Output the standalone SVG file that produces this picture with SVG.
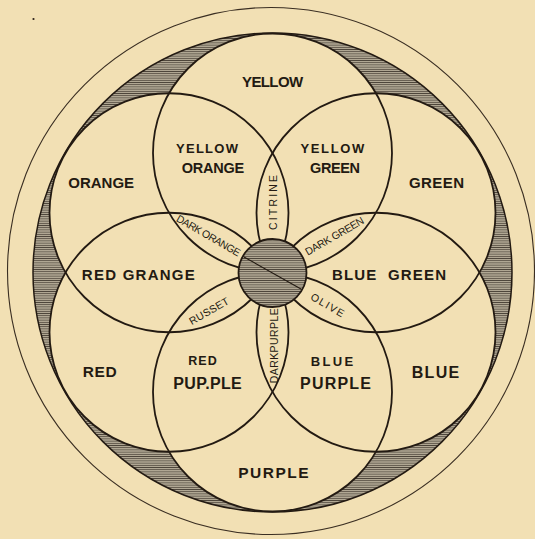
<svg xmlns="http://www.w3.org/2000/svg" width="535" height="539" viewBox="0 0 535 539">
<defs>
<pattern id="hatch" patternUnits="userSpaceOnUse" width="6" height="2.2">
<rect width="6" height="2.2" fill="#bcb39e"/>
<line x1="0" y1="1.1" x2="6" y2="1.1" stroke="#4e463b" stroke-width="0.9"/>
</pattern>
</defs>
<style>
.paper{fill:#f2e0b4}
.ring{fill:none;stroke:#231a12;stroke-width:1.8}
.lbl{font-family:"Liberation Sans",Arial,sans-serif;font-weight:bold;fill:#231a12;text-anchor:middle}
.lens{font-family:"Liberation Sans",Arial,sans-serif;fill:#231a12;text-anchor:middle;font-size:10.5px}
</style>
<rect width="535" height="539" class="paper"/>
<circle cx="33.5" cy="19" r="1.1" fill="#2a2017"/>
<g id="outer-ring">
<circle cx="271" cy="271" r="263.5" fill="none" stroke="#3a2e22" stroke-width="1.1"/>
</g>
<g id="shading">
<circle cx="272.5" cy="272.5" r="239.5" fill="url(#hatch)" stroke="#231a12" stroke-width="1.5"/>
<circle cx="272.5" cy="153" r="119.5" class="paper"/>
<circle cx="376" cy="212.75" r="119.5" class="paper"/>
<circle cx="376" cy="332.25" r="119.5" class="paper"/>
<circle cx="272.5" cy="392" r="119.5" class="paper"/>
<circle cx="169" cy="332.25" r="119.5" class="paper"/>
<circle cx="169" cy="212.75" r="119.5" class="paper"/>
</g>
<g id="connectors">
<g id="circle-yellow"><circle cx="272.5" cy="153" r="119.5" class="ring"/></g>
<g id="circle-green"><circle cx="376" cy="212.75" r="119.5" class="ring"/></g>
<g id="circle-blue"><circle cx="376" cy="332.25" r="119.5" class="ring"/></g>
<g id="circle-purple"><circle cx="272.5" cy="392" r="119.5" class="ring"/></g>
<g id="circle-red"><circle cx="169" cy="332.25" r="119.5" class="ring"/></g>
<g id="circle-orange"><circle cx="169" cy="212.75" r="119.5" class="ring"/></g>
</g>
<g id="center-disc">
<circle cx="272.5" cy="273" r="34" fill="url(#hatch)" stroke="#231a12" stroke-width="1.8"/>
<line x1="244" y1="257" x2="301" y2="289" stroke="#231a12" stroke-width="1.1"/>
</g>
<g id="yellow"><text class="lbl" x="272.6" y="86.5" font-size="15" textLength="61" lengthAdjust="spacing">YELLOW</text></g>
<g id="yellow-orange"><text class="lbl" x="207" y="152.8" font-size="13" textLength="62" lengthAdjust="spacing">YELLOW</text><text class="lbl" x="213" y="172.7" font-size="14.5" textLength="62.5" lengthAdjust="spacing">ORANGE</text></g>
<g id="yellow-green"><text class="lbl" x="332.4" y="152.8" font-size="13" textLength="64" lengthAdjust="spacing">YELLOW</text><text class="lbl" x="335" y="172.7" font-size="14.5" textLength="50" lengthAdjust="spacing">GREEN</text></g>
<g id="orange"><text class="lbl" x="101.2" y="188.3" font-size="15" textLength="65.7" lengthAdjust="spacing">ORANGE</text></g>
<g id="green"><text class="lbl" x="436.5" y="188.3" font-size="15" textLength="55" lengthAdjust="spacing">GREEN</text></g>
<g id="red-orange"><text class="lbl" x="138.3" y="280" font-size="15" textLength="113" lengthAdjust="spacing">RED GRANGE</text></g>
<g id="blue-green"><text class="lbl" x="389" y="279.5" font-size="15" textLength="114" lengthAdjust="spacing" xml:space="preserve">BLUE  GREEN</text></g>
<g id="red"><text class="lbl" x="99.7" y="376.7" font-size="15.5" textLength="34" lengthAdjust="spacing">RED</text></g>
<g id="red-purple"><text class="lbl" x="202.5" y="365.3" font-size="12.5" textLength="28.4" lengthAdjust="spacing">RED</text><text class="lbl" x="207.5" y="389.3" font-size="16" textLength="68.4" lengthAdjust="spacing">PUP.PLE</text></g>
<g id="blue-purple"><text class="lbl" x="332" y="366.3" font-size="13" textLength="42.5" lengthAdjust="spacing">BLUE</text><text class="lbl" x="335.5" y="389.2" font-size="16" textLength="71" lengthAdjust="spacing">PURPLE</text></g>
<g id="blue"><text class="lbl" x="435.5" y="378.3" font-size="16" textLength="47.5" lengthAdjust="spacing">BLUE</text></g>
<g id="purple"><text class="lbl" x="273.4" y="478.3" font-size="15.5" textLength="70.5" lengthAdjust="spacing">PURPLE</text></g>
<g id="citrine"><text class="lens" transform="translate(272.8 202.5) rotate(-90)" y="4" font-size="11.5" textLength="55" lengthAdjust="spacing">CITRINE</text></g>
<g id="dark-orange"><text class="lens" transform="translate(208.5 235.5) rotate(30)" y="3.7" textLength="72" lengthAdjust="spacing">DARK ORANGE</text></g>
<g id="dark-green"><text class="lens" transform="translate(334.5 236) rotate(-30)" y="3.7" textLength="66" lengthAdjust="spacing">DARK GREEN</text></g>
<g id="russet"><text class="lens" transform="translate(209 311) rotate(-30)" y="3.7" textLength="44" lengthAdjust="spacing">RUSSET</text></g>
<g id="olive"><text class="lens" transform="translate(327.5 305) rotate(30)" y="3.7" textLength="37" lengthAdjust="spacing">OLIVE</text></g>
<g id="dark-purple"><text class="lens" transform="translate(273.8 345.8) rotate(-90)" y="4" font-size="11.5" textLength="75" lengthAdjust="spacing">DARKPURPLE</text></g>
</svg>
